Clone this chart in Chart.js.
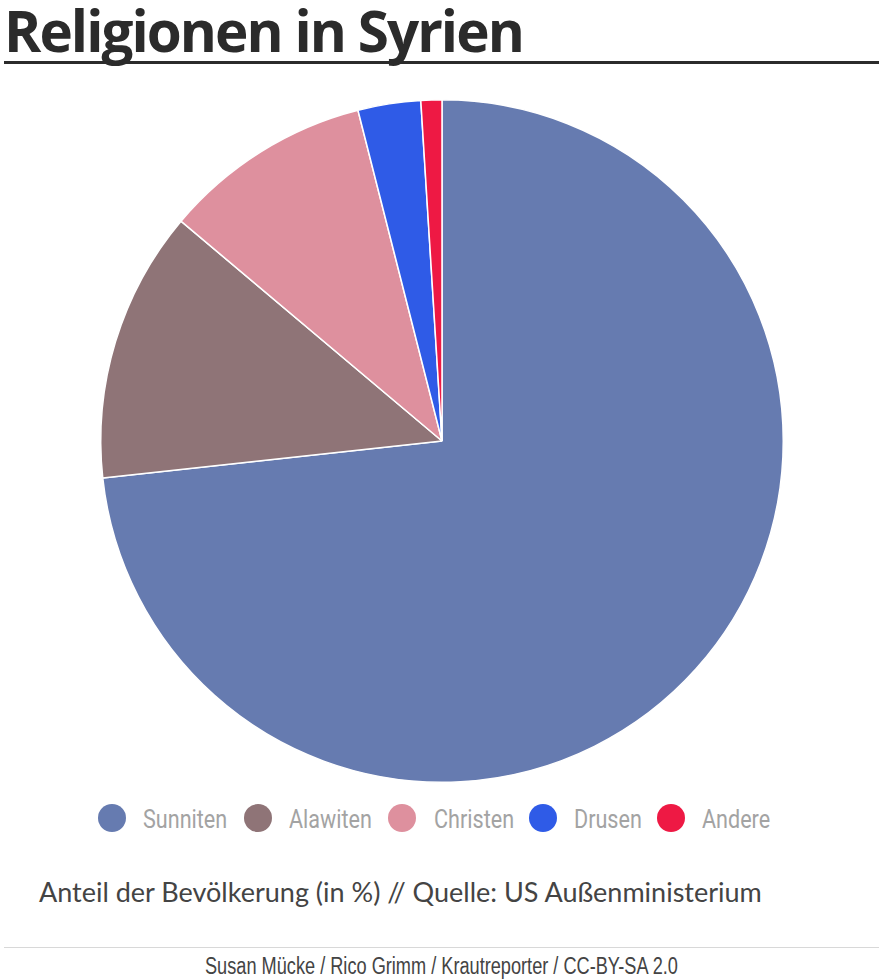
<!DOCTYPE html>
<html>
<head>
<meta charset="utf-8">
<script src="https://cdn.jsdelivr.net/npm/chart.js@4"></script>
<style>
  body { margin: 0; background: #fff; color: #333; width: 882px; height: 980px; position: relative; overflow: hidden; }
  h1 { position: absolute; left: 4px; top: -1px; margin: 0; font: bold 58px "Open Sans", sans-serif; letter-spacing: -2px; line-height: 62px; color: #2b2b2b; white-space: nowrap; transform: scaleX(0.975); transform-origin: 0 0; }
  #rule { position: absolute; left: 4px; top: 61px; width: 875px; height: 3px; background: #2b2b2b; }
  #wrap { position: absolute; left: 91.5px; top: 90.5px; width: 700px; height: 700px; }
  #legend { position: absolute; top: 804px; left: 0; width: 882px; height: 30px; }
  #legend span { position: absolute; top: 0; font: 26px/30px Roboto, sans-serif; color: #a3a3a3; white-space: nowrap; transform: scaleX(0.83); transform-origin: 0 0; }
  #legend i { position: absolute; top: 0; width: 28px; height: 28px; border-radius: 50%; }
  #note { position: absolute; left: 39px; top: 876px; font: 27px/32px Lato, sans-serif; color: #444; white-space: nowrap; }
  #foot-rule { position: absolute; left: 4px; top: 947px; width: 875px; height: 1px; background: #d8d8d8; }
  #foot { position: absolute; left: 205px; top: 952px; font: 23px/28px "Liberation Sans", sans-serif; color: #444; white-space: nowrap; transform: scaleX(0.79); transform-origin: 0 0; }
</style>
</head>
<body>
<h1>Religionen in Syrien</h1>
<div id="rule"></div>
<div id="wrap"><canvas id="pie"></canvas></div>
<div id="legend"></div>
<div id="note">Anteil der Bevölkerung (in %) // Quelle: US Außenministerium</div>
<div id="foot-rule"></div>
<div id="foot">Susan Mücke / Rico Grimm / Krautreporter / CC-BY-SA 2.0</div>
<script>
const categories = ["Sunniten", "Alawiten", "Christen", "Drusen", "Andere"];
const shares = [74, 13, 10, 3, 1];
const colors = ["#667bb0", "#8f7477", "#de909e", "#2f5be7", "#ee1944"];
const legendDots = [98, 244, 388, 529, 657];
const legendTexts = [143, 289, 434, 574, 702];

new Chart(document.getElementById("pie"), {
  type: "pie",
  data: {
    labels: categories,
    datasets: [{ data: shares, backgroundColor: colors, borderColor: "#fff", borderWidth: 1.5 }]
  },
  options: {
    responsive: true,
    maintainAspectRatio: true,
    aspectRatio: 1,
    animation: false,
    layout: { padding: 8 },
    plugins: { legend: { display: false }, tooltip: { enabled: false } }
  }
});

const legend = document.getElementById("legend");
categories.forEach((name, i) => {
  legend.insertAdjacentHTML("beforeend",
    `<i style="left:${legendDots[i]}px;background:${colors[i]}"></i><span style="left:${legendTexts[i]}px">${name}</span>`);
});
</script>
</body>
</html>
